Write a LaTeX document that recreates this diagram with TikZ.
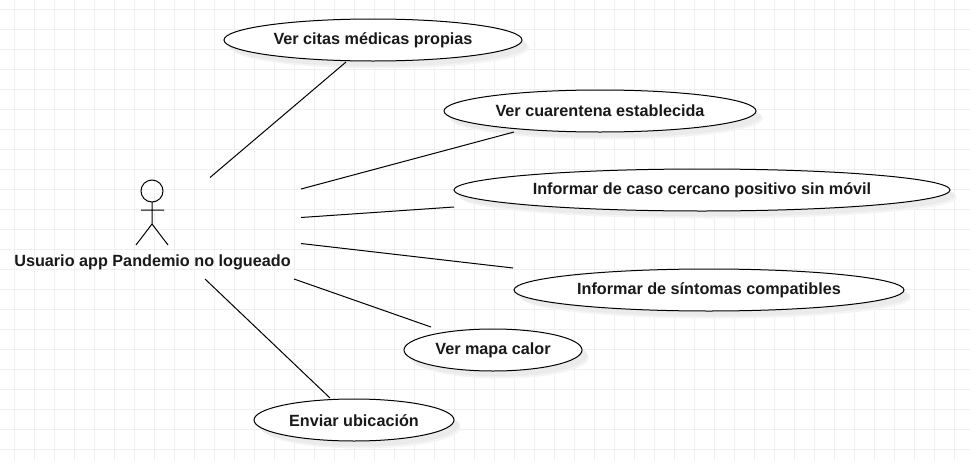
\documentclass[tikz,border=0pt]{standalone}
\usepackage{fontspec}
\setmainfont{Liberation Sans}
\definecolor{gridc}{HTML}{EFEFEF}
\definecolor{shadowc}{HTML}{EBEBEB}
\definecolor{shadowd}{HTML}{F4F4F4}
\tikzset{
  x=1pt,y=-1pt,
  usecase/.style={ellipse,draw=black,fill=white,line width=1pt,inner sep=0pt,outer sep=0pt},
  lbl/.style={font=\fontsize{16.2}{19}\selectfont\bfseries,text=black!90},
  conn/.style={draw=black,line width=1pt},
}
\usetikzlibrary{shapes.geometric}
\newcommand{\ucase}[6]{%
  \fill[shadowd] (#2+7,#3+7.5) ellipse [x radius=#4,y radius=21];
  \fill[shadowc] (#2+5,#3+5.5) ellipse [x radius=#4,y radius=21];
  \node[usecase,minimum width=#4*2pt,minimum height=42pt] (#1) at (#2,#3) {};
  \node[lbl] (#1t) at (#2,#3+0.2) {#5};
}
\begin{document}
\begin{tikzpicture}
\useasboundingbox (0,0) rectangle (970,461);
\fill[white] (0,0) rectangle (970,461);
\foreach \i in {0,...,47} \draw[gridc,line width=.7pt] (14+20*\i,0) -- (14+20*\i,461);
\foreach \i in {0,...,22} \draw[gridc,line width=.7pt] (0,9+20*\i) -- (970,9+20*\i);
\ucase{e1}{373}{40}{149}{Ver citas médicas propias}{}
\ucase{e2}{600}{111}{156}{Ver cuarentena establecida}{}
\ucase{e3}{702}{190}{248}{Informar de caso cercano positivo sin móvil}{}
\ucase{e4}{709}{290}{195}{Informar de síntomas compatibles}{}
\ucase{e5}{493}{350}{89}{Ver mapa calor}{}
\ucase{e6}{354}{420}{100}{Enviar ubicación}{}
% actor
\node[circle,draw=black,line width=1pt,minimum size=22pt,inner sep=0pt,outer sep=0pt] (head) at (152,191) {};
\coordinate (hip) at (152,224);
\coordinate (armL) at (141,210);
\coordinate (armR) at (164,210);
\coordinate (legL) at (136,245);
\coordinate (legR) at (168,245);
\draw[conn] (head.south) -- (hip) (armL) -- (armR) (legL) -- (hip) -- (legR);
\node[lbl] (actor) at (152.5,262) {Usuario app Pandemio no logueado};
% connectors
\coordinate (a1) at (210,177.5); \coordinate (b1) at (346,62);
\coordinate (a2) at (301,189);   \coordinate (b2) at (514,132);
\coordinate (a3) at (301,217.5); \coordinate (b3) at (454,207);
\coordinate (a4) at (301,243.5); \coordinate (b4) at (513,268);
\coordinate (a5) at (294,279);   \coordinate (b5) at (431,327);
\coordinate (a6) at (205,279);   \coordinate (b6) at (330,398);
\foreach \k in {1,...,6} \draw[conn] (a\k) -- (b\k);
\end{tikzpicture}
\end{document}
